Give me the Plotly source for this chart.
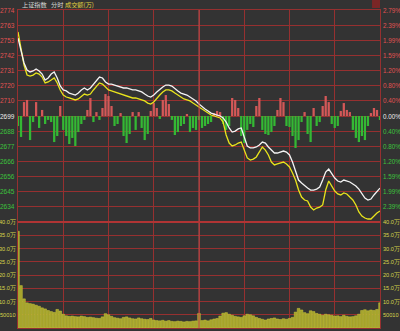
import plotly.graph_objects as go

# ---------------- data ----------------
minutes = list(range(0, 241, 2))          # minutes after the open, sampled every 2 minutes
prev_close = 2699.5                        # reference level (0.00 %)
grid_step = 10.76                          # index points per horizontal grid line (0.3986 %)

price = [2754.9, 2746.4, 2737.2,
         2732.2, 2730.8, 2731.5, 2732.9, 2731.5, 2729.3, 2725.1, 2726.5, 2729.3, 2730.8,
         2726.5, 2720.8, 2718.0, 2717.3, 2715.8, 2715.1, 2714.4, 2715.8, 2718.0, 2719.4,
         2718.0, 2719.4, 2722.2, 2725.1, 2727.2, 2726.5, 2723.7, 2722.2, 2722.2, 2721.5,
         2720.8, 2720.1, 2719.4, 2719.4, 2718.7, 2718.0, 2718.0, 2717.3, 2716.6, 2715.1,
         2713.7, 2713.0, 2714.4, 2716.6, 2718.7, 2720.1, 2721.5, 2721.5, 2720.8, 2718.7,
         2717.3, 2715.8, 2715.1, 2714.4, 2713.0, 2711.6, 2710.2, 2708.0, 2705.9, 2704.5,
         2703.1, 2701.6, 2700.9, 2700.2, 2699.5, 2698.1, 2695.2, 2691.0, 2688.1, 2688.8,
         2690.3, 2691.0, 2685.3, 2678.2, 2676.8, 2676.8, 2677.5, 2678.9, 2681.0, 2680.3,
         2677.5, 2675.3, 2673.2, 2673.2, 2673.9, 2674.6, 2673.9, 2671.8, 2666.8, 2659.7,
         2654.0, 2651.9, 2649.8, 2648.3, 2646.9, 2646.9, 2647.6, 2649.0, 2654.0, 2659.7,
         2661.8, 2658.3, 2655.4, 2653.3, 2652.6, 2654.0, 2653.3, 2652.6, 2651.2, 2649.8,
         2647.6, 2644.1, 2641.2, 2639.8, 2640.5, 2643.4, 2646.2, 2648.3]

avg_line = [2759.2, 2747.8, 2735.7,
            2728.6, 2727.9, 2728.6, 2730.1, 2729.3, 2727.2, 2723.0, 2723.7, 2725.1, 2726.5,
            2723.0, 2718.0, 2714.4, 2713.0, 2712.3, 2711.6, 2710.9, 2711.6, 2713.7, 2715.1,
            2714.4, 2715.1, 2718.0, 2720.8, 2723.0, 2722.2, 2720.1, 2718.0, 2717.3, 2716.6,
            2715.8, 2715.1, 2714.4, 2713.7, 2713.0, 2712.3, 2712.3, 2711.6, 2710.9, 2710.2,
            2708.7, 2708.0, 2709.5, 2712.3, 2714.4, 2716.6, 2718.0, 2718.0, 2717.3, 2715.8,
            2714.4, 2713.0, 2711.6, 2710.9, 2710.2, 2708.7, 2707.3, 2705.9, 2704.5, 2703.1,
            2701.6, 2700.2, 2699.5, 2698.8, 2698.1, 2695.2, 2686.0, 2680.3, 2678.2, 2678.9,
            2680.3, 2681.0, 2675.3, 2669.7, 2668.2, 2668.9, 2670.4, 2673.9, 2677.5, 2675.3,
            2671.8, 2666.8, 2664.7, 2665.4, 2666.1, 2666.8, 2665.4, 2663.3, 2659.0, 2654.0,
            2646.9, 2641.9, 2639.8, 2639.1, 2634.8, 2632.7, 2634.1, 2634.8, 2636.3, 2646.9,
            2653.3, 2649.8, 2646.2, 2644.1, 2643.4, 2644.8, 2644.1, 2641.9, 2639.8, 2636.3,
            2631.3, 2628.4, 2627.0, 2626.3, 2626.3, 2628.4, 2630.6, 2632.0]

# buying / selling strength bars around the reference line (index points)
strength = [-7.1, -14.9, 9.9, 11.4, -17.1, -4.3, 9.9, -8.5, 4.3, -5.7,
            -2.8, -4.3, -18.5, -14.2, 7.1, -9.9, -14.2, -19.9, -15.6, -21.3,
            -11.4, -5.7, -2.8, 4.3, 12.8, -4.3, 2.8, -2.8, 5.7, 15.6,
            14.2, 7.1, -7.1, -5.7, 2.1, -14.2, -19.2, -12.8, 2.8, -9.9,
            2.8, -8.5, -17.1, -12.8, 3.6, 9.2, 5.7, -2.1, 11.4, 14.9,
            8.5, -2.8, -13.5, -11.4, -7.1, -5.7, 1.4, -11.4, -8.5, -9.9,
            -2.8, -8.5, -7.1, -5.7, -4.3, 2.1, 3.6, 2.8, -5.7, -9.9,
            -7.1, 12.8, 11.4, 5.7, -14.2, -19.2, -9.9, -5.7, -7.8, 7.1,
            12.8, -9.9, -12.8, -13.5, -11.4, -7.1, 4.3, 12.8, 9.9, -7.1,
            -7.8, -14.2, -22.7, -17.1, -4.3, 2.8, -12.8, -18.5, 5.7, -7.1,
            -4.3, 7.1, 14.2, 9.9, -5.7, -8.5, -7.1, 3.6, 9.2, 4.3,
            2.8, -9.9, -15.6, -18.5, -14.2, -17.1, -7.1, 2.1, 5.7, 4.3,
            -2.8]

# turnover per bar (万)
volume = [36.5, 16.0, 11.0, 9.5, 9.2, 9.0, 8.6, 8.2, 7.6, 7.2,
          6.6, 6.2, 5.9, 7.0, 6.4, 5.2, 4.6, 4.4, 4.5, 4.3,
          4.2, 4.5, 4.3, 4.0, 4.1, 3.9, 3.7, 3.6, 4.2, 5.4,
          5.0, 4.4, 3.9, 3.7, 3.5, 4.0, 4.2, 3.8, 3.5, 3.4,
          3.8, 3.5, 3.3, 3.2, 3.6, 3.0, 2.8, 2.7, 2.9, 2.6,
          2.8, 2.5, 2.4, 2.6, 2.5, 2.3, 2.5, 2.4, 2.6, 2.7,
          5.5, 2.8, 3.0, 2.7, 3.1, 3.4, 3.6, 4.5, 5.6, 5.8,
          5.2, 4.8, 4.4, 4.2, 4.0, 4.6, 5.2, 5.0, 4.6, 4.0,
          3.6, 3.3, 3.0, 3.4, 3.6, 3.8, 3.4, 3.2, 3.5, 3.3,
          3.6, 4.0, 6.0, 7.4, 6.8, 5.8, 5.4, 6.5, 6.2, 5.5,
          5.2, 4.8, 5.2, 5.0, 4.8, 4.5, 4.6, 4.3, 4.8, 4.4,
          4.2, 4.3, 4.6, 5.2, 6.6, 6.9, 6.5, 6.8, 6.6, 7.0,
          9.5]

price_steps = [7, 6, 5, 4, 3, 2, 1, 0, -1, -2, -3, -4, -5, -6]
left_price_labels = ["2774", "2763", "2753", "2742", "2731", "2720", "2710", "2699",
                     "2688", "2677", "2666", "2656", "2645", "2634"]
right_pct_labels = ["2.79%", "2.39%", "1.99%", "1.59%", "1.20%", "0.80%", "0.40%", "0.00%",
                    "0.40%", "0.80%", "1.20%", "1.59%", "1.99%", "2.39%"]
volume_ticks = [40, 35, 30, 25, 20, 15, 10, 5]
volume_labels = ["40.0万", "35.0万", "30.0万", "25.0万", "20.0万", "15.0万", "10.0万", "50010"]
header = [("上证指数", "#d8d8d8"), ("分时", "#d8d8d8"), ("成交额(万)", "#e2d240")]

# ---------------- styling ----------------
BG = "#333333"
GRID = "#963030"
RED = "#d45858"
GREEN = "#34b834"
LBL_RED = "#e05252"
LBL_GREEN = "#3cc23c"
LBL_WHITE = "#ececec"
LBL_YELLOW = "#d8d44a"
NUMFONT = "Liberation Sans, Arial, sans-serif"

fig = go.Figure()
fig.add_trace(go.Bar(
    x=minutes, y=strength, base=prev_close, width=1.5,
    marker=dict(color=[RED if s > 0 else GREEN for s in strength], line=dict(width=0)),
    xaxis="x", yaxis="y", hoverinfo="skip"))
fig.add_trace(go.Scatter(x=minutes, y=avg_line, mode="lines",
                         line=dict(color="#e8e41c", width=1.3), xaxis="x", yaxis="y"))
fig.add_trace(go.Scatter(x=minutes, y=price, mode="lines",
                         line=dict(color="#f4f4f4", width=1.3), xaxis="x", yaxis="y"))
fig.add_trace(go.Bar(
    x=minutes, y=volume, width=1.75,
    marker=dict(color="#a4a22c", line=dict(color="#cdca3c", width=0.5)),
    xaxis="x2", yaxis="y2", hoverinfo="skip"))

lo = prev_close - 7 * grid_step
hi = prev_close + 7 * grid_step
price_grid = [prev_close + k * grid_step for k in range(-7, 8)]

xa = dict(range=[0, 240], tickvals=list(range(0, 241, 30)), showgrid=True, gridcolor=GRID,
          gridwidth=1, showticklabels=False, zeroline=False, showline=True, linecolor=GRID,
          linewidth=1, mirror=True, ticks="", fixedrange=True)
fig.update_layout(
    width=400, height=331,
    margin=dict(l=18, r=20, t=10, b=3),
    paper_bgcolor=BG, plot_bgcolor=BG,
    showlegend=False, barmode="overlay",
    xaxis=dict(**xa, anchor="y"),
    xaxis2=dict(**xa, anchor="y2", matches="x"),
    yaxis=dict(domain=[1 / 3, 1], range=[lo, hi], tickvals=price_grid, showgrid=True,
               gridcolor=GRID, gridwidth=1, showticklabels=False, zeroline=False,
               showline=True, linecolor=GRID, mirror=True, ticks=""),
    yaxis2=dict(domain=[0, 1 / 3], range=[0, 40], tickvals=list(range(0, 41, 5)),
                showgrid=True, gridcolor=GRID, gridwidth=1, showticklabels=False,
                zeroline=False, showline=True, linecolor=GRID, mirror=True, ticks=""),
)

ann = []
for k, lt, rt in zip(price_steps, left_price_labels, right_pct_labels):
    col = LBL_RED if k > 0 else (LBL_WHITE if k == 0 else LBL_GREEN)
    yv = prev_close + k * grid_step
    ann.append(dict(x=0, xref="paper", y=yv, yref="y", text=lt, xanchor="right",
                    yanchor="middle", xshift=-1, showarrow=False,
                    font=dict(family=NUMFONT, size=6.5, color=col)))
    ann.append(dict(x=1, xref="paper", y=yv, yref="y", text=rt, xanchor="left",
                    yanchor="middle", xshift=0.5, showarrow=False,
                    font=dict(family=NUMFONT, size=6.3, color=col)))
for v, t in zip(volume_ticks, volume_labels):
    for side in (0, 1):
        ann.append(dict(x=side, xref="paper", y=v, yref="y2", text=t,
                        xanchor="right" if side == 0 else "left", yanchor="middle",
                        xshift=-0.5 if side == 0 else 0.5, showarrow=False,
                        font=dict(family=NUMFONT, size=5.6, color=LBL_YELLOW)))
hx = [0.006, 0.085, 0.125]
for (txt, col), xx in zip(header, hx):
    ann.append(dict(x=xx, xref="paper", y=1 + 5 / 318, yref="paper", text=txt,
                    xanchor="left", yanchor="middle", showarrow=False,
                    font=dict(family="Noto Sans CJK SC", size=6.2, color=col)))
fig.update_layout(annotations=ann)

fig.add_shape(type="line", xref="x", yref="paper", x0=120, x1=120, y0=0, y1=1,
              line=dict(color="#c24a4a", width=1))
fig.add_shape(type="line", xref="paper", yref="paper", x0=0, x1=1, y0=1 / 3, y1=1 / 3,
              line=dict(color="#b03434", width=2))
fig.add_shape(type="rect", xref="paper", yref="paper", x0=0.978, x1=1.0,
              y0=1 + 2 / 318, y1=1 + 10 / 318, line=dict(width=0), fillcolor="#7a2626")

fig.write_html("out.html")
